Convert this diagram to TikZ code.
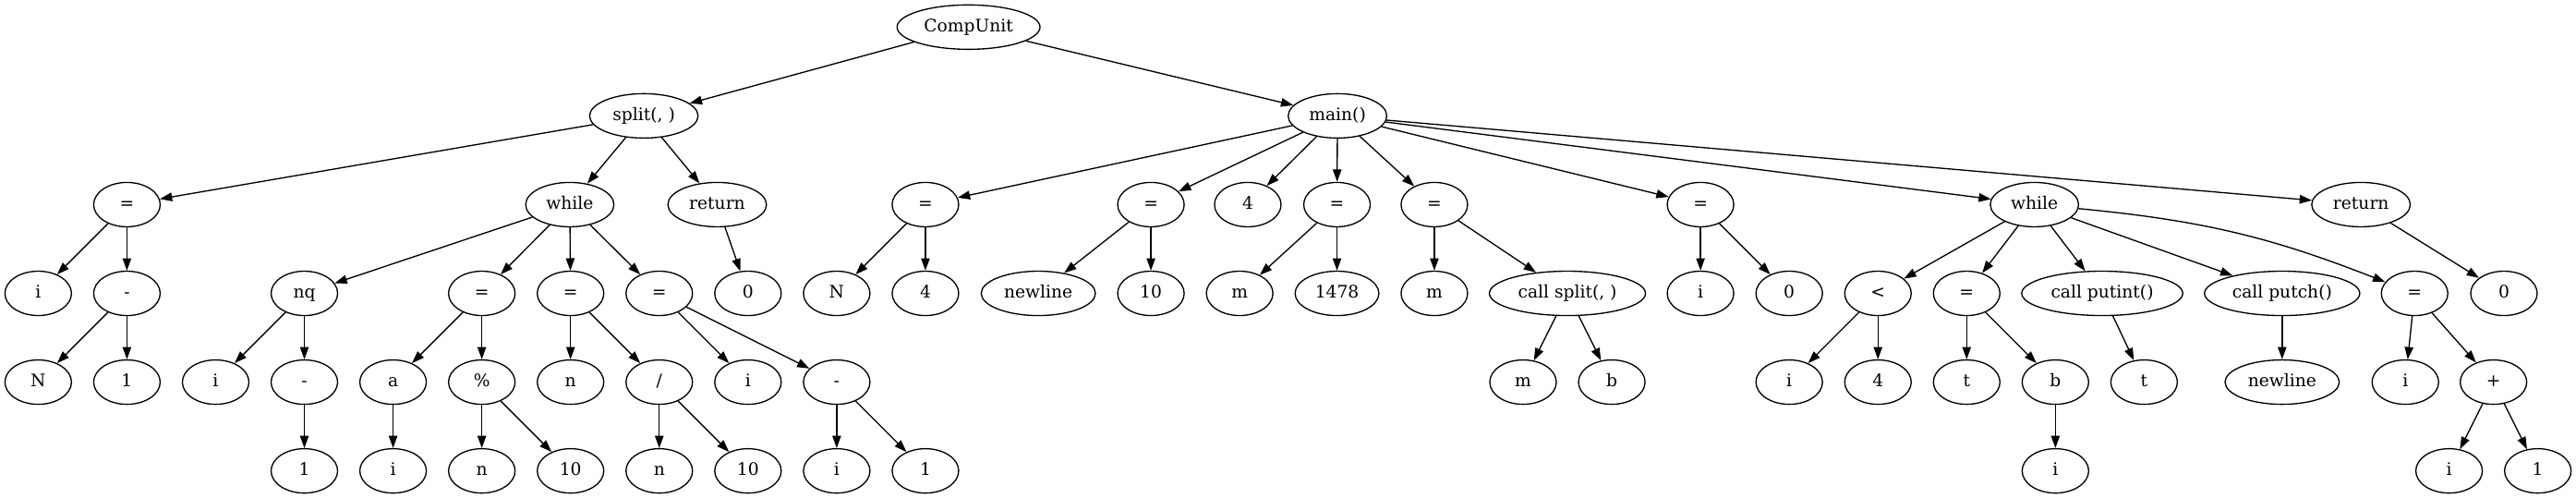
\documentclass[tikz,border=0pt]{standalone}
\usepackage{fontspec}
\setmainfont{DejaVu Serif}
\usetikzlibrary{shapes.geometric,arrows.meta}

\begin{document}
\begin{tikzpicture}[x=1pt,y=1pt,
    ast/.style={draw,ellipse,line width=1pt,inner sep=0pt,minimum width=54pt,minimum height=36pt,
      font=\fontsize{14}{16}\selectfont,text height=11pt,text depth=3pt},
    ew/.style={minimum width=#1},
    edge/.style={line width=1pt,-{Triangle[length=10pt,width=7pt]}}]
\useasboundingbox (0,0) rectangle (2090.5,-404);

% root
\node[ast,ew=116pt] (cu) at (786,-22) {CompUnit};

% split(, )
\node[ast,ew=88pt] (split) at (522.5,-94) {split(, )};
\node[ast] (sEq) at (103,-166) {=};
\node[ast] (sEqI) at (31,-238) {i};
\node[ast] (sEqM) at (103,-238) {-};
\node[ast] (sEqMN) at (31,-310) {N};
\node[ast] (sEqM1) at (103,-310) {1};
\node[ast,ew=71.6pt] (sWhile) at (462.4,-166) {while};
\node[ast] (nq) at (247,-238) {nq};
\node[ast] (nqI) at (175,-310) {i};
\node[ast] (nqM) at (247,-310) {-};
\node[ast] (nqM1) at (247,-382) {1};
\node[ast] (wEqA) at (391,-238) {=};
\node[ast] (wA) at (319,-310) {a};
\node[ast] (wAI) at (319,-382) {i};
\node[ast] (wMod) at (391,-310) {\%};
\node[ast] (wModN) at (391,-382) {n};
\node[ast] (wMod10) at (463,-382) {10};
\node[ast] (wEqN) at (463,-238) {=};
\node[ast] (wN) at (463,-310) {n};
\node[ast] (wDiv) at (535,-310) {/};
\node[ast] (wDivN) at (535,-382) {n};
\node[ast] (wDiv10) at (607,-382) {10};
\node[ast] (wEqI) at (535,-238) {=};
\node[ast] (wI) at (607,-310) {i};
\node[ast] (wSub) at (679,-310) {-};
\node[ast] (wSubI) at (679,-382) {i};
\node[ast] (wSub1) at (751,-382) {1};
\node[ast,ew=80pt] (sRet) at (582,-166) {return};
\node[ast] (sRet0) at (607,-238) {0};

% main()
\node[ast,ew=80pt] (main) at (1085.4,-94) {main()};
\node[ast] (mEqN) at (751,-166) {=};
\node[ast] (mN) at (679,-238) {N};
\node[ast] (mN4) at (751,-238) {4};
\node[ast] (mEqNl) at (934,-166) {=};
\node[ast,ew=92.7pt] (mNl) at (842.6,-238) {newline};
\node[ast] (mNl10) at (934,-238) {10};
\node[ast] (m4) at (1012.6,-166) {4};
\node[ast] (mEqM) at (1085,-166) {=};
\node[ast] (mM) at (1006,-238) {m};
\node[ast,ew=68pt] (mM1478) at (1085,-238) {1478};
\node[ast] (mEqB) at (1164,-166) {=};
\node[ast] (mB) at (1164,-238) {m};
\node[ast,ew=126.7pt] (callSplit) at (1272,-238) {call split(, )};
\node[ast] (csM) at (1236,-310) {m};
\node[ast] (csB) at (1308,-310) {b};
\node[ast] (mEqI) at (1380,-166) {=};
\node[ast] (mI) at (1380,-238) {i};
\node[ast] (mI0) at (1452,-238) {0};
\node[ast,ew=71.6pt] (mWhile) at (1651,-166) {while};
\node[ast] (lt) at (1524,-238) {<};
\node[ast] (ltI) at (1452,-310) {i};
\node[ast] (lt4) at (1524,-310) {4};
\node[ast] (wEqT) at (1596,-238) {=};
\node[ast] (wT) at (1596,-310) {t};
\node[ast] (wB) at (1668,-310) {b};
\node[ast] (wBI) at (1668,-382) {i};
\node[ast,ew=130.7pt] (putint) at (1706,-238) {call putint()};
\node[ast] (putintT) at (1740,-310) {t};
\node[ast,ew=126pt] (putch) at (1852,-238) {call putch()};
\node[ast,ew=92.7pt] (putchNl) at (1852,-310) {newline};
\node[ast] (wEqInc) at (1959.5,-238) {=};
\node[ast] (incI) at (1952,-310) {i};
\node[ast] (plus) at (2023.5,-310) {+};
\node[ast] (plusI) at (1987.5,-382) {i};
\node[ast] (plus1) at (2059.5,-382) {1};
\node[ast,ew=80pt] (mRet) at (1916,-166) {return};
\node[ast] (mRet0) at (2032,-238) {0};

% edges
\foreach \a/\b in {cu/split, cu/main,
    split/sEq, split/sWhile, split/sRet,
    sEq/sEqI, sEq/sEqM, sEqM/sEqMN, sEqM/sEqM1,
    sWhile/nq, sWhile/wEqA, sWhile/wEqN, sWhile/wEqI,
    nq/nqI, nq/nqM, nqM/nqM1,
    wEqA/wA, wEqA/wMod, wA/wAI, wMod/wModN, wMod/wMod10,
    wEqN/wN, wEqN/wDiv, wDiv/wDivN, wDiv/wDiv10,
    wEqI/wI, wEqI/wSub, wSub/wSubI, wSub/wSub1,
    sRet/sRet0,
    main/mEqN, main/mEqNl, main/m4, main/mEqM, main/mEqB, main/mEqI, main/mWhile, main/mRet,
    mEqN/mN, mEqN/mN4, mEqNl/mNl, mEqNl/mNl10, mEqM/mM, mEqM/mM1478,
    mEqB/mB, mEqB/callSplit, callSplit/csM, callSplit/csB,
    mEqI/mI, mEqI/mI0,
    mWhile/lt, mWhile/wEqT, mWhile/putint, mWhile/putch,
    lt/ltI, lt/lt4, wEqT/wT, wEqT/wB, wB/wBI,
    putint/putintT, putch/putchNl,
    wEqInc/incI, wEqInc/plus, plus/plusI, plus/plus1,
    mRet/mRet0}
  \draw[edge] (\a) -- (\b);
\draw[edge] (mWhile) to[bend left=8] (wEqInc);

\end{tikzpicture}
\end{document}
